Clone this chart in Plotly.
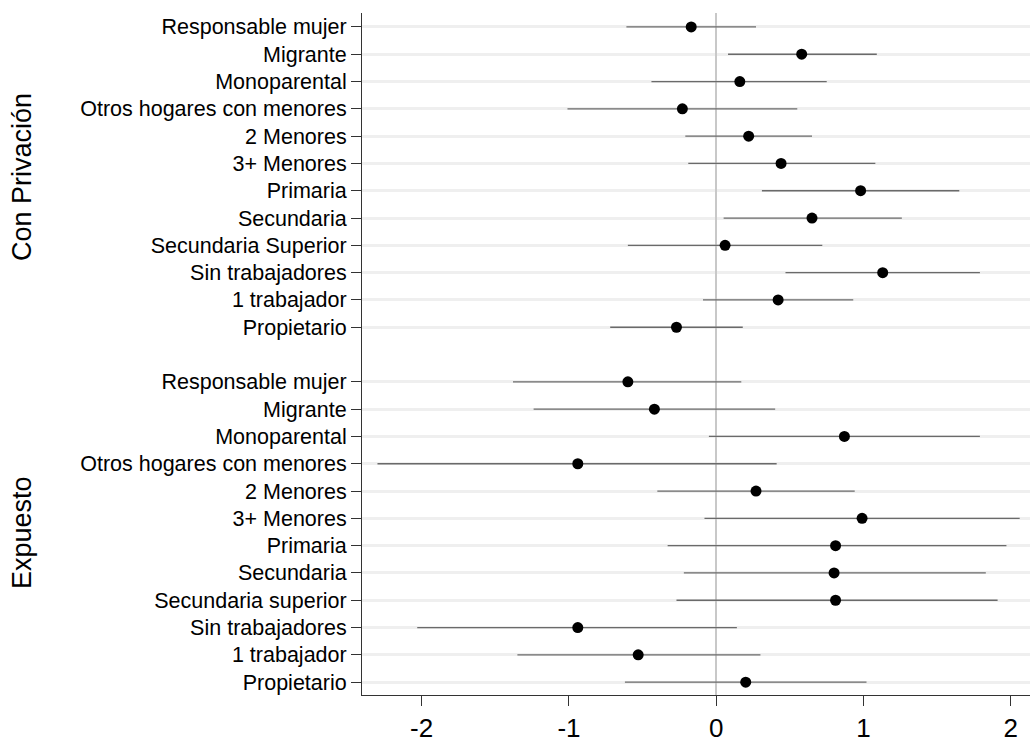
import plotly.graph_objects as go

labels_priv = ["Responsable mujer", "Migrante", "Monoparental", "Otros hogares con menores",
               "2 Menores", "3+ Menores", "Primaria", "Secundaria", "Secundaria Superior",
               "Sin trabajadores", "1 trabajador", "Propietario"]
est_priv = [-0.17, 0.58, 0.16, -0.23, 0.22, 0.44, 0.98, 0.65, 0.06, 1.13, 0.42, -0.27]
lo_priv = [-0.61, 0.08, -0.44, -1.01, -0.21, -0.19, 0.31, 0.05, -0.60, 0.47, -0.09, -0.72]
hi_priv = [0.27, 1.09, 0.75, 0.55, 0.65, 1.08, 1.65, 1.26, 0.72, 1.79, 0.93, 0.18]

labels_exp = ["Responsable mujer", "Migrante", "Monoparental", "Otros hogares con menores",
              "2 Menores", "3+ Menores", "Primaria", "Secundaria", "Secundaria superior",
              "Sin trabajadores", "1 trabajador", "Propietario"]
est_exp = [-0.60, -0.42, 0.87, -0.94, 0.27, 0.99, 0.81, 0.80, 0.81, -0.94, -0.53, 0.20]
lo_exp = [-1.38, -1.24, -0.05, -2.30, -0.40, -0.08, -0.33, -0.22, -0.27, -2.03, -1.35, -0.62]
hi_exp = [0.17, 0.40, 1.79, 0.41, 0.94, 2.06, 1.97, 1.83, 1.91, 0.14, 0.30, 1.02]

group_titles = ["Con Privación", "Expuesto"]
x_ticks = [-2, -1, 0, 1, 2]

FONT = "Arial, Liberation Sans, sans-serif"

n = len(labels_priv)
y_priv = list(range(n))
y_exp = [n + 1 + i for i in range(len(labels_exp))]

ys = y_priv + y_exp
est = est_priv + est_exp
lo = lo_priv + lo_exp
hi = hi_priv + hi_exp
labels = labels_priv + labels_exp

fig = go.Figure()
fig.add_trace(go.Scatter(
    x=est, y=ys, mode="markers",
    marker=dict(color="black", size=11),
    error_x=dict(type="data", symmetric=False,
                 array=[h - e for h, e in zip(hi, est)],
                 arrayminus=[e - l for e, l in zip(est, lo)],
                 color="#6a6a6a", thickness=1.3, width=0),
    showlegend=False, hoverinfo="skip",
))

fig.update_layout(
    width=1030, height=740,
    margin=dict(l=362, r=0, t=13, b=45),
    plot_bgcolor="white", paper_bgcolor="white",
    font=dict(family=FONT, color="black"),
    xaxis=dict(range=[-2.405, 2.13], tickvals=x_ticks, ticktext=[str(v) for v in x_ticks],
               showgrid=False, zeroline=True, zerolinecolor="#c8c8c8", zerolinewidth=2,
               showline=True, linecolor="#333333", linewidth=1, automargin=False,
               ticks="outside", ticklen=10, tickcolor="#333333", tickwidth=1,
               tickfont=dict(size=26, family=FONT), ticklabelstandoff=0),
    yaxis=dict(range=[24.47, -0.51], tickvals=ys, ticktext=labels, automargin=False,
               showgrid=True, gridcolor="#efefef", gridwidth=3, zeroline=False,
               showline=True, linecolor="#333333", linewidth=1,
               ticks="outside", ticklen=10, tickcolor="#333333", tickwidth=1,
               tickfont=dict(size=21.5, family=FONT), ticklabelstandoff=0),
)

centers = [sum(y_priv) / len(y_priv), sum(y_exp) / len(y_exp)]
for t, c in zip(group_titles, centers):
    fig.add_annotation(text=t, xref="paper", yref="y", x=-0.509, y=c,
                       textangle=-90, showarrow=False, xanchor="center", yanchor="middle",
                       font=dict(size=27, family=FONT, color="black"))

fig.write_html("out.html", config={"displayModeBar": False},
               post_script="document.body.style.margin='0';document.body.style.overflow='hidden';")
